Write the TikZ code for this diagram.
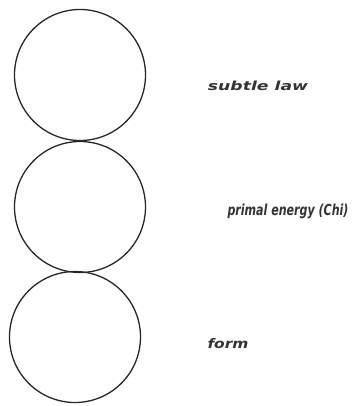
\documentclass[tikz,border=0pt]{standalone}
\usepackage{fontspec}
\setmainfont{DejaVu Sans}
\begin{document}
\begin{tikzpicture}[x=1pt,y=-1pt,
  ring/.style={draw=black!85,line width=1.3pt,circle,inner sep=0pt,minimum size=131pt},
  lbl/.style={font=\bfseries\itshape,text=black!80,inner sep=0pt,anchor=base}]
\useasboundingbox (0,0) rectangle (352,406);
\node[ring] (c1) at (80,75) {};
\node[ring] (c2) at (80,207) {};
\node[ring] (c3) at (75,337) {};
\node[lbl] (t1) at (258,91) {\resizebox{100pt}{9.5pt}{subtle law}};
\node[lbl] (t2) at (288,215) {\resizebox{121pt}{11.5pt}{primal energy (Chi)}};
\node[lbl] (t3) at (228,348) {\resizebox{41pt}{10pt}{form}};
\end{tikzpicture}
\end{document}
